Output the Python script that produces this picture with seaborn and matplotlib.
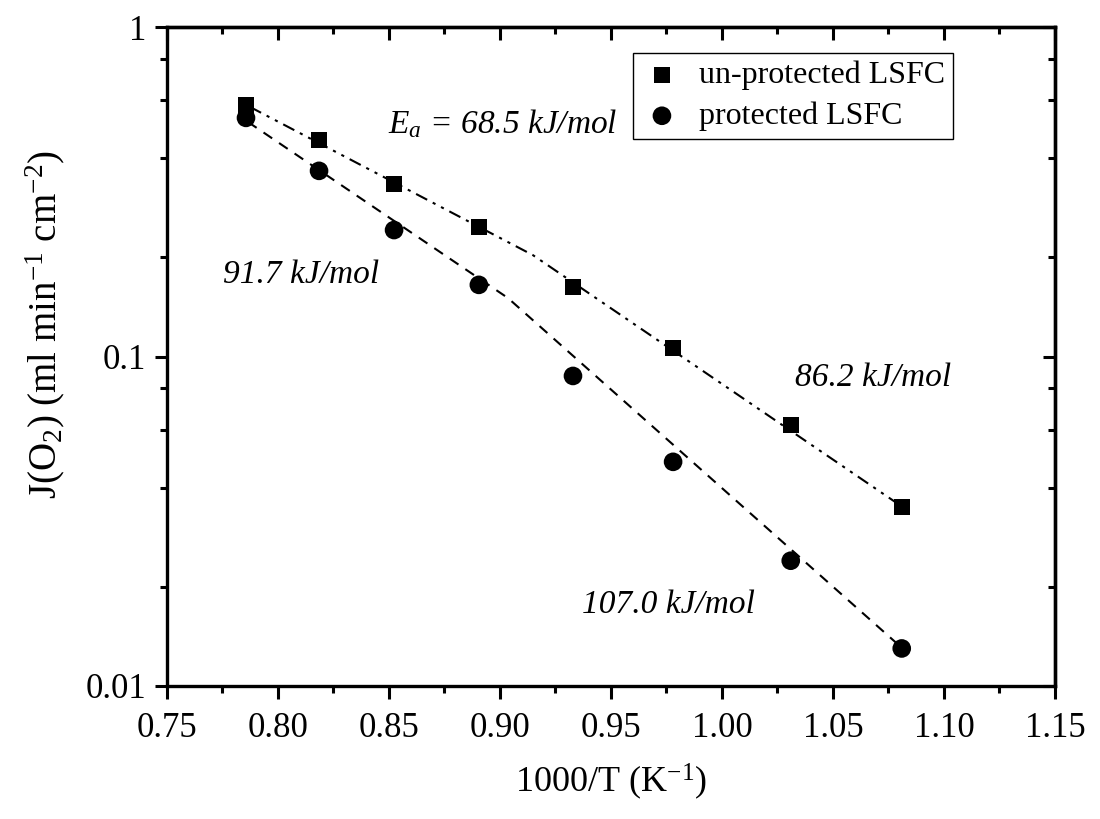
import numpy as np
import pandas as pd
import matplotlib
matplotlib.use("Agg")
import matplotlib.pyplot as plt
import matplotlib.ticker as mticker
import seaborn as sns

# ---- data ----
inv_T = [0.7856, 0.8185, 0.8523, 0.8905, 0.9329, 0.9780, 1.0310, 1.0810]
j_unprotected = [0.580, 0.454, 0.334, 0.247, 0.1625, 0.106, 0.0620, 0.0349]
j_protected = [0.530, 0.366, 0.242, 0.165, 0.0873, 0.0479, 0.0240, 0.0130]

fit_unprot_x = [0.7874, 0.9149, 1.0788]
fit_unprot_y = [0.572, 0.203, 0.0359]
fit_prot_x = [0.7865, 0.9036, 1.0797]
fit_prot_y = [0.515, 0.1505, 0.0133]

series_labels = ["un-protected LSFC", "protected LSFC"]
x_ticks = [0.75, 0.80, 0.85, 0.90, 0.95, 1.00, 1.05, 1.10, 1.15]
y_ticks = [0.01, 0.1, 1]
y_tick_labels = ["0.01", "0.1", "1"]
annotations = [
    (0.8495, 0.477, r"$E_a$ = 68.5 kJ/mol"),
    (0.7751, 0.167, "91.7 kJ/mol"),
    (1.0329, 0.0815, "86.2 kJ/mol"),
    (0.9370, 0.0167, "107.0 kJ/mol"),
]

sns.set_style("ticks")
plt.rcParams["font.family"] = ["Liberation Serif", "DejaVu Serif"]
plt.rcParams["mathtext.fontset"] = "custom"
plt.rcParams["mathtext.rm"] = "Liberation Serif"
plt.rcParams["mathtext.it"] = "Liberation Serif:italic"
for k in ["text.color", "axes.labelcolor", "xtick.color", "ytick.color", "axes.edgecolor"]:
    plt.rcParams[k] = "black"

fig = plt.figure(figsize=(11, 8.19), dpi=100)
ax = fig.add_axes([0.1518, 0.1624, 0.959 - 0.1518, 0.967 - 0.1624])

# fit lines
sns.lineplot(x=fit_unprot_x, y=fit_unprot_y, ax=ax, color="black", lw=1.5,
             linestyle=(0, (6, 3, 1.5, 3, 1.5, 3)), legend=False)
sns.lineplot(x=fit_prot_x, y=fit_prot_y, ax=ax, color="black", lw=1.5,
             linestyle=(0, (5, 4)), legend=False)

# data points
sns.scatterplot(x=inv_T, y=j_unprotected, marker="s", s=130, color="black",
                edgecolor="none", ax=ax, zorder=5, label=series_labels[0])
sns.scatterplot(x=inv_T, y=j_protected, marker="o", s=180, color="black",
                edgecolor="none", ax=ax, zorder=5, label=series_labels[1])

ax.set_yscale("log")
ax.set_xlim(0.75, 1.15)
ax.set_ylim(0.01, 1)

ax.set_xticks(x_ticks)
ax.xaxis.set_major_formatter(mticker.FormatStrFormatter("%.2f"))
ax.xaxis.set_minor_locator(mticker.MultipleLocator(0.025))
ax.set_yticks(y_ticks)
ax.set_yticklabels(y_tick_labels)
ax.yaxis.set_minor_locator(mticker.LogLocator(base=10, subs=[2, 4, 6, 8]))
ax.yaxis.set_minor_formatter(mticker.NullFormatter())

for sp in ax.spines.values():
    sp.set_visible(True)
    sp.set_linewidth(2.4)
    sp.set_color("black")

ax.tick_params(which="major", direction="out", length=9, width=2.2,
               labelsize=25, top=False, right=False)
ax.tick_params(axis="x", which="major", pad=10)
ax.tick_params(axis="y", which="major", pad=6)
ax.tick_params(which="minor", direction="out", length=5, width=2.2,
               top=False, right=False)

secx = ax.secondary_xaxis("top")
secx.set_xticks(x_ticks)
secx.xaxis.set_minor_locator(mticker.MultipleLocator(0.025))
secx.tick_params(which="major", direction="in", length=9, width=2.2, labeltop=False)
secx.tick_params(which="minor", direction="in", length=5, width=2.2)
secx.spines["top"].set_linewidth(2.4)

secy = ax.secondary_yaxis("right")
secy.set_yticks(y_ticks)
secy.yaxis.set_minor_locator(mticker.LogLocator(base=10, subs=[2, 4, 6, 8]))
secy.yaxis.set_minor_formatter(mticker.NullFormatter())
secy.tick_params(which="major", direction="in", length=9, width=2.2, labelright=False)
secy.tick_params(which="minor", direction="in", length=5, width=2.2)
secy.spines["right"].set_linewidth(2.4)

ax.set_xlabel(r"1000/T (K$^{\mathrm{-1}}$)", fontsize=26, labelpad=12)
ax.set_ylabel(r"J(O$_2$) (ml min$^{\mathrm{-1}}$ cm$^{\mathrm{-2}}$)", fontsize=28)
ax.yaxis.set_label_coords(-0.113, 0.548)

for x, y, t in annotations:
    ax.text(x, y, t, fontsize=24, style="italic", ha="left", va="baseline")

leg = ax.legend(loc="upper right", bbox_to_anchor=(0.885, 0.9606), fontsize=23,
                frameon=True, fancybox=False, edgecolor="black", framealpha=1,
                handletextpad=0.5, borderpad=0.25, labelspacing=0.35,
                handlelength=1.3, borderaxespad=0)
leg.get_frame().set_linewidth(1.0)

fig.savefig("out.png", dpi=100)
